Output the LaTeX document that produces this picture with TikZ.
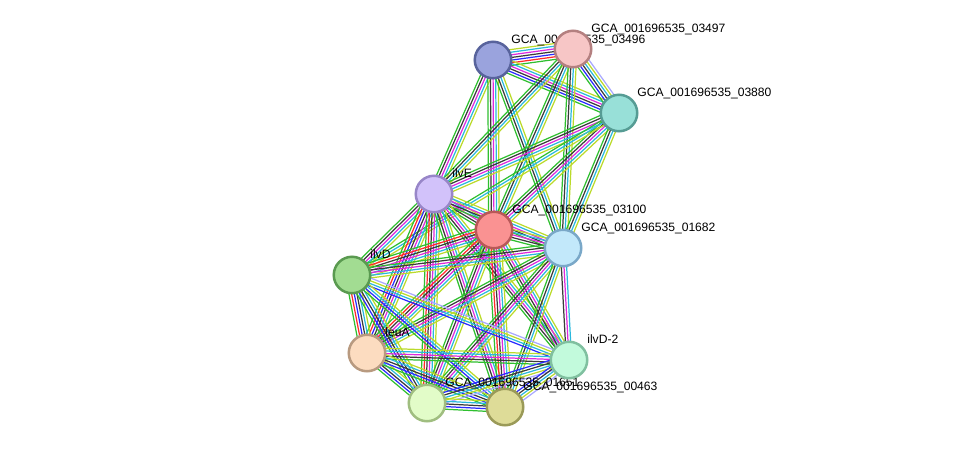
\documentclass[tikz,border=0pt]{standalone}
\usepackage{fontspec}
\setmainfont{Liberation Sans}
\usepackage{tikz}
\usetikzlibrary{calc}

% evidence colours
\definecolor{nb}{HTML}{2FBF2F}
\definecolor{fu}{HTML}{FF2A2A}
\definecolor{co}{HTML}{2A2AFF}
\definecolor{ce}{HTML}{3A3A3A}
\definecolor{ex}{HTML}{DD2ADD}
\definecolor{db}{HTML}{2AB8DD}
\definecolor{tm}{HTML}{BBDA2A}
\definecolor{ho}{HTML}{A8A8FF}

\pgfdeclarelayer{edgelayer}
\pgfdeclarelayer{labellayer}
\pgfsetlayers{edgelayer,labellayer,main}

% one link = several parallel coloured lines
\newcommand\strlink[3]{%
  \foreach \c [count=\i] in {#3} {\xdef\nlines{\i}}
  \foreach \c [count=\i] in {#3} {
    \pgfmathsetmacro\off{(\i-(\nlines+1)/2)*1.5}
    \draw[\c] ($(#1)!\off pt!90:(#2)$) -- ($(#2)!\off pt!-90:(#1)$);
  }}

\tikzset{
  prot/.style={circle, minimum size=0.73cm, inner sep=0pt, line width=0.05cm},
  lbl/.style={anchor=base west, inner sep=0pt, font=\fontsize{6.9}{8}\selectfont}
}

\begin{document}
\begin{tikzpicture}[x=0.02cm, y=-0.02cm]
  \useasboundingbox (0,0) rectangle (975,453);

  % proteins
  \node[prot, fill={rgb,255:red,154;green,163;blue,221}, draw={rgb,255:red,88;green,99;blue,156}] (n96) at (493,60) {};
  \node[prot, fill={rgb,255:red,247;green,198;blue,198}, draw={rgb,255:red,180;green,128;blue,128}] (n97) at (573,49) {};
  \node[prot, fill={rgb,255:red,152;green,224;blue,216}, draw={rgb,255:red,86;green,156;blue,148}] (n80) at (619,113) {};
  \node[prot, fill={rgb,255:red,210;green,194;blue,250}, draw={rgb,255:red,152;green,134;blue,200}] (ilvE) at (434,194) {};
  \node[prot, fill={rgb,255:red,250;green,146;blue,146}, draw={rgb,255:red,184;green,88;blue,88}] (n100) at (494,230) {};
  \node[prot, fill={rgb,255:red,194;green,232;blue,250}, draw={rgb,255:red,122;green,168;blue,200}] (n82) at (563,248) {};
  \node[prot, fill={rgb,255:red,162;green,220;blue,146}, draw={rgb,255:red,90;green,154;blue,80}] (ilvD) at (352,275) {};
  \node[prot, fill={rgb,255:red,252;green,220;blue,192}, draw={rgb,255:red,184;green,154;blue,128}] (leuA) at (367,353) {};
  \node[prot, fill={rgb,255:red,194;green,250;blue,220}, draw={rgb,255:red,128;green,192;blue,160}] (ilvD2) at (569,360) {};
  \node[prot, fill={rgb,255:red,226;green,252;blue,200}, draw={rgb,255:red,160;green,190;blue,128}] (n51) at (427,403) {};
  \node[prot, fill={rgb,255:red,222;green,220;blue,152}, draw={rgb,255:red,154;green,154;blue,88}] (n63) at (505,407) {};

  % labels
  \begin{pgfonlayer}{labellayer}
    \node[lbl] (l96) at ($(n96)+(18,-17)$) {GCA\_001696535\_03496};
    \node[lbl] (l97) at ($(n97)+(18,-17)$) {GCA\_001696535\_03497};
    \node[lbl] (l80) at ($(n80)+(18,-17)$) {GCA\_001696535\_03880};
    \node[lbl] (lE) at ($(ilvE)+(18,-17)$) {ilvE};
    \node[lbl] (l100) at ($(n100)+(18,-17)$) {GCA\_001696535\_03100};
    \node[lbl] (l82) at ($(n82)+(18,-17)$) {GCA\_001696535\_01682};
    \node[lbl] (lD) at ($(ilvD)+(18,-17)$) {ilvD};
    \node[lbl] (lL) at ($(leuA)+(18,-17)$) {leuA};
    \node[lbl] (lD2) at ($(ilvD2)+(18,-17)$) {ilvD-2};
    \node[lbl] (l51) at ($(n51)+(18,-17)$) {GCA\_001696535\_01651};
    \node[lbl] (l63) at ($(n63)+(18,-17)$) {GCA\_001696535\_00463};
  \end{pgfonlayer}

  % links
  \begin{pgfonlayer}{edgelayer}
  \begin{scope}[line width=0.7pt]
    \strlink{n96}{n97}{nb,fu,co,ce,ex,db,tm}
    \strlink{n96}{n80}{nb,co,ce,ex,db,tm}
    \strlink{n97}{n80}{nb,co,ce,db,tm,ho}
    \strlink{n96}{ilvE}{nb,ce,ex,db,tm}
    \strlink{n96}{n100}{nb,ce,ex,db,tm}
    \strlink{n96}{n82}{nb,ce,db,tm}
    \strlink{n97}{ilvE}{nb,ce,db,tm}
    \strlink{n97}{n100}{nb,ce,db,tm}
    \strlink{n97}{n82}{nb,ce,db,tm}
    \strlink{n80}{ilvE}{nb,ce,ex,db,tm}
    \strlink{n80}{n100}{nb,ce,ex,db,tm}
    \strlink{n80}{n82}{nb,ce,db,tm}
    \strlink{n80}{ilvD}{nb,db,tm}

    \strlink{ilvE}{n100}{nb,ce,ex,db,tm}
    \strlink{ilvE}{n82}{nb,ce,ex,db,tm}
    \strlink{ilvE}{ilvD}{nb,ce,ex,db,tm}
    \strlink{ilvE}{leuA}{nb,fu,co,ce,ex,db,tm}
    \strlink{ilvE}{ilvD2}{nb,ce,ex,db,tm}
    \strlink{ilvE}{n51}{nb,fu,ce,ex,db,tm}
    \strlink{ilvE}{n63}{nb,ce,ex,db,tm}
    \strlink{n100}{n82}{nb,ce,ex,db,tm}
    \strlink{n100}{ilvD}{nb,fu,ce,ex,db,tm}
    \strlink{n100}{leuA}{nb,fu,ce,ex,db,tm}
    \strlink{n100}{ilvD2}{nb,ce,ex,db,tm}
    \strlink{n100}{n51}{nb,ce,ex,db,tm}
    \strlink{n100}{n63}{nb,fu,ce,ex,db,tm}
    \strlink{n82}{ilvD}{nb,ce,ex,db,tm}
    \strlink{n82}{leuA}{nb,ce,ex,db,tm}
    \strlink{n82}{ilvD2}{ce,ex,db}
    \strlink{n82}{n51}{nb,ce,ex,db,tm}
    \strlink{n82}{n63}{nb,ce,db,tm}
    \strlink{ilvD}{leuA}{nb,fu,co,ce,db,tm}
    \strlink{ilvD}{ilvD2}{co,db,tm,ho}
    \strlink{ilvD}{n51}{nb,co,ce,db,tm}
    \strlink{ilvD}{n63}{nb,co,db,tm}
    \strlink{leuA}{ilvD2}{nb,ce,ex,db,tm}
    \strlink{leuA}{n51}{nb,co,ce,db,tm}
    \strlink{leuA}{n63}{nb,co,ce,db,tm}
    \strlink{ilvD2}{n51}{co,ce,db,tm,ho}
    \strlink{ilvD2}{n63}{co,ce,db,tm,ho}
    \strlink{n51}{n63}{nb,co,ce,db,tm}
  \end{scope}
  \end{pgfonlayer}
\end{tikzpicture}
\end{document}
